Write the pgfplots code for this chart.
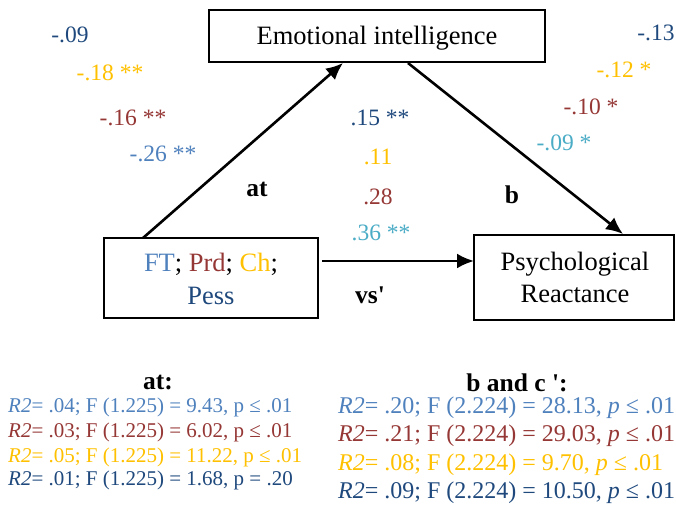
\documentclass[border=0pt]{standalone}
\usepackage{pgfplots}
\pgfplotsset{compat=1.18}
\usepackage{fontspec}
\setmainfont{Liberation Serif}
\usetikzlibrary{arrows.meta}
\definecolor{cFT}{RGB}{79,129,189}
\definecolor{cPrd}{RGB}{149,55,53}
\definecolor{cCh}{RGB}{255,192,0}
\definecolor{cPess}{RGB}{31,73,125}
\definecolor{cCy}{RGB}{75,172,198}
\newcommand{\boxfont}{\fontsize{26.5bp}{32bp}\selectfont}
\newcommand{\coeffont}{\fontsize{23.5bp}{28bp}\selectfont}
\newcommand{\lfont}{\fontsize{21bp}{25bp}\selectfont}
\newcommand{\rfont}{\fontsize{24bp}{28bp}\selectfont}
\newcommand{\tfont}{\fontsize{25.5bp}{30bp}\selectfont\bfseries}
\begin{document}
\begin{tikzpicture}
\begin{axis}[
  width=676bp, height=510bp, scale only axis,
  xmin=0, xmax=676, ymin=0, ymax=510, y dir=reverse,
  hide axis, clip=false,
]
\path (axis cs:0,0) rectangle (axis cs:676,510);
% boxes
\draw[line width=2.6bp] (axis cs:209,10) rectangle (axis cs:545,62);
\draw[line width=2.6bp] (axis cs:104,238) rectangle (axis cs:318,318);
\draw[line width=2.6bp] (axis cs:474,235) rectangle (axis cs:674,320);
% arrows
\addplot[line width=2.6bp, -{Latex[length=17bp,width=15bp]}] coordinates {(143,238) (343,63)};
\addplot[line width=2.6bp, -{Latex[length=17bp,width=15bp]}] coordinates {(408,63) (623,234)};
\addplot[line width=2.6bp, -{Latex[length=17bp,width=15bp]}] coordinates {(322,261) (474,261)};
% box texts
\node[inner sep=0, font=\boxfont] at (axis cs:377,38) {Emotional intelligence};
\node[inner sep=0, font=\boxfont] at (axis cs:211,264) {\textcolor{cFT}{FT}; \textcolor{cPrd}{Prd}; \textcolor{cCh}{Ch};};
\node[inner sep=0, font=\boxfont, text=cPess] at (axis cs:211,296) {Pess};
\node[inner sep=0, font=\boxfont] at (axis cs:575,264) {Psychological};
\node[inner sep=0, font=\boxfont] at (axis cs:575,294) {Reactance};
% path labels
\node[inner sep=0, font=\tfont] at (axis cs:257,189) {at};
\node[inner sep=0, font=\tfont] at (axis cs:512,195) {b};
\node[inner sep=0, font=\tfont] at (axis cs:370,295) {vs\textquotesingle};
% coefficients a
\node[inner sep=0, font=\coeffont, text=cPess] at (axis cs:70,35) {-.09};
\node[inner sep=0, font=\coeffont, text=cCh] at (axis cs:110,73) {-.18 **};
\node[inner sep=0, font=\coeffont, text=cPrd] at (axis cs:133,118) {-.16 **};
\node[inner sep=0, font=\coeffont, text=cFT] at (axis cs:163,154) {-.26 **};
% coefficients b
\node[inner sep=0, font=\coeffont, text=cPess] at (axis cs:656,33) {-.13};
\node[inner sep=0, font=\coeffont, text=cCh] at (axis cs:624,70) {-.12 *};
\node[inner sep=0, font=\coeffont, text=cPrd] at (axis cs:591,107) {-.10 *};
\node[inner sep=0, font=\coeffont, text=cCy] at (axis cs:564,143) {-.09 *};
% coefficients c'
\node[inner sep=0, font=\coeffont, text=cPess] at (axis cs:380,118) {.15 **};
\node[inner sep=0, font=\coeffont, text=cCh] at (axis cs:378,157) {.11};
\node[inner sep=0, font=\coeffont, text=cPrd] at (axis cs:378,197) {.28};
\node[inner sep=0, font=\coeffont, text=cCy] at (axis cs:381,233) {.36 **};
% bottom titles
\node[inner sep=0, font=\tfont] at (axis cs:158,383) {at:};
\node[inner sep=0, font=\tfont] at (axis cs:517,383) {b and c \textquotesingle:};
% left stats
\node[inner sep=0, anchor=west, font=\lfont, text=cFT] at (axis cs:8,407) {\textit{R2}= .04; F (1.225) = 9.43, p ≤ .01};
\node[inner sep=0, anchor=west, font=\lfont, text=cPrd] at (axis cs:8,432) {\textit{R2}= .03; F (1.225) = 6.02, p ≤ .01};
\node[inner sep=0, anchor=west, font=\lfont, text=cCh] at (axis cs:8,457) {\textit{R2}= .05; F (1.225) = 11.22, p ≤ .01};
\node[inner sep=0, anchor=west, font=\lfont, text=cPess] at (axis cs:8,480) {\textit{R2}= .01; F (1.225) = 1.68, p = .20};
% right stats
\node[inner sep=0, anchor=west, font=\rfont, text=cFT] at (axis cs:338,408) {\textit{R2}= .20; F (2.224) = 28.13, \textit{p} ≤ .01};
\node[inner sep=0, anchor=west, font=\rfont, text=cPrd] at (axis cs:338,436) {\textit{R2}= .21; F (2.224) = 29.03, \textit{p} ≤ .01};
\node[inner sep=0, anchor=west, font=\rfont, text=cCh] at (axis cs:338,465) {\textit{R2}= .08; F (2.224) = 9.70, \textit{p} ≤ .01};
\node[inner sep=0, anchor=west, font=\rfont, text=cPess] at (axis cs:338,493) {\textit{R2}= .09; F (2.224) = 10.50, \textit{p} ≤ .01};
\end{axis}
\end{tikzpicture}
\end{document}
